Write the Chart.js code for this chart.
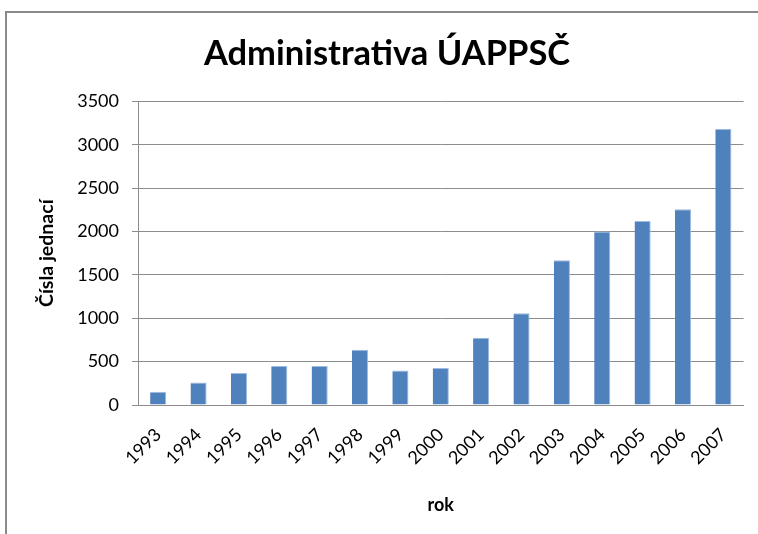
<!DOCTYPE html>
<html>
<head>
<meta charset="utf-8">
<script src="https://cdn.jsdelivr.net/npm/chart.js"></script>
<style>
  body { margin: 0; background: #fff; overflow: hidden; }
  #frame { position: absolute; left: 5px; top: 11px; width: 800px; height: 600px; border: 2px solid #8a8a8a; }
  #wrap { position: absolute; left: 0; top: 0; width: 758px; height: 534px; }
</style>
</head>
<body>
<div id="frame"></div>
<div id="wrap"><canvas id="barChart"></canvas></div>
<script>
const years = ["1993", "1994", "1995", "1996", "1997", "1998", "1999", "2000",
  "2001", "2002", "2003", "2004", "2005", "2006", "2007"];
const counts = [153, 260, 368, 449, 449, 637, 399, 426, 775, 1059, 1669, 1999, 2122, 2257, 3181];
const yTicks = [0, 500, 1000, 1500, 2000, 2500, 3000, 3500];

const fontFamily = "Lato, 'Open Sans', sans-serif";
const gridGray = "#8c8c8c";

const ctx = document.getElementById("barChart").getContext("2d");
const barChart = new Chart(ctx, {
  type: "bar",
  data: {
    labels: years,
    datasets: [
      {
        label: "Čísla jednací",
        data: counts,
        backgroundColor: "#4F81BD",
        borderColor: "#9fbbe0",
        borderWidth: { top: 1, left: 0, right: 1, bottom: 0 },
        barPercentage: 0.4,
        categoryPercentage: 1.0,
      },
    ],
  },
  options: {
    responsive: true,
    maintainAspectRatio: false,
    animation: false,
    layout: { padding: { left: 27, right: 11, top: 0, bottom: 0 } },
    plugins: {
      legend: { display: false },
      tooltip: { enabled: false },
      title: {
        display: true,
        text: "Administrativa ÚAPPSČ",
        color: "#000",
        font: { family: fontFamily, size: 34.5, weight: "bold" },
        padding: { top: 33, bottom: 27 },
      },
    },
    scales: {
      x: {
        grid: { display: false, drawTicks: false },
        border: { display: true, color: gridGray },
        ticks: {
          color: "#000",
          font: { family: fontFamily, size: 18 },
          minRotation: 45,
          maxRotation: 45,
          padding: 19,
        },
        title: {
          display: true,
          text: "rok",
          color: "#000",
          font: { family: fontFamily, size: 18, weight: "bold" },
          padding: { top: 0, bottom: 18 },
        },
        afterFit: (scale) => { scale.height = 129; },
      },
      y: {
        min: 0,
        max: 3500,
        afterBuildTicks: (scale) => {
          scale.ticks = yTicks.map((v) => ({ value: v }));
        },
        grid: { color: gridGray, tickLength: 6 },
        border: { display: true, color: gridGray },
        ticks: {
          color: "#000",
          font: { family: fontFamily, size: 18 },
          padding: 13,
          callback: (value) => String(value),
        },
        title: {
          display: true,
          text: "Čísla jednací",
          color: "#000",
          font: { family: fontFamily, size: 19.5, weight: "bold" },
          padding: { top: 8, bottom: 0 },
        },
        afterFit: (scale) => { scale.width = 111; },
      },
    },
  },
});
</script>
</body>
</html>
